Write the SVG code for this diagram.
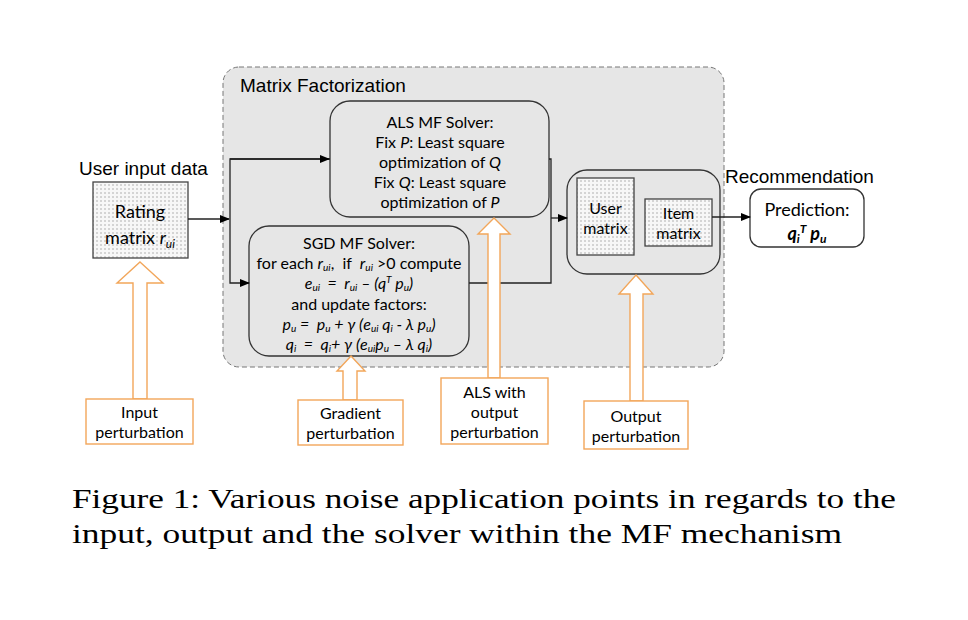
<svg xmlns="http://www.w3.org/2000/svg" width="968" height="620" viewBox="0 0 968 620">
<defs>
<pattern id="dots" width="4" height="4" patternUnits="userSpaceOnUse">
<rect width="4" height="4" fill="#f7f7f7"/>
<rect x="0" y="0" width="2" height="2" fill="#d4d4d4"/>
</pattern>
<marker id="arr" markerWidth="10" markerHeight="8" refX="9" refY="4" orient="auto" markerUnits="userSpaceOnUse">
<path d="M0,0 L10,4 L0,8 Z" fill="#000"/>
</marker>
<style>
.ar{font-family:Arial,"Liberation Sans",sans-serif;font-size:19px;fill:#000}
.cb{font-family:Lato,"Open Sans",sans-serif;font-size:16px;fill:#000;text-anchor:middle}
.box{fill:#e6e6e6;stroke:#333;stroke-width:1.3}
.dot{fill:url(#dots);stroke:#444;stroke-width:1.3}
.or{fill:#fff;stroke:#f2a65a;stroke-width:1.4}
.con{fill:none;stroke:#222;stroke-width:1.3}
.cap{font-family:"Liberation Serif","DejaVu Serif",serif;font-size:27px;fill:#000}
.it{font-style:italic}
</style>
</defs>
<rect width="968" height="620" fill="#fff"/>

<g id="mf-container">
<rect x="223" y="67" width="501" height="300" rx="16" fill="#e6e6e6" stroke="#777" stroke-width="1" stroke-dasharray="5,3"/>
<text class="ar" x="240" y="92">Matrix Factorization</text>
</g>

<g id="user-input">
<text class="ar" x="79" y="175">User input data</text>
<rect class="dot" x="93" y="182" width="95" height="76"/>
<text class="cb" x="140" y="218" style="font-size:18px">Rating</text>
<text class="cb" x="140" y="244" style="font-size:18px">matrix <tspan class="it">r</tspan><tspan class="it" dy="4" font-size="12">ui</tspan></text>
</g>

<g id="als-solver">
<rect class="box" x="330" y="101" width="219" height="116" rx="20"/>
<text class="cb" x="440" y="128">ALS MF Solver:</text>
<text class="cb" x="440" y="148">Fix <tspan class="it">P</tspan>: Least square</text>
<text class="cb" x="440" y="168">optimization of <tspan class="it">Q</tspan></text>
<text class="cb" x="440" y="188">Fix <tspan class="it">Q</tspan>: Least square</text>
<text class="cb" x="440" y="208">optimization of <tspan class="it">P</tspan></text>
</g>

<g id="sgd-solver">
<rect class="box" x="249" y="226" width="220" height="130" rx="20"/>
<text class="cb" x="359" y="249">SGD MF Solver:</text>
<text class="cb" x="359" y="269" xml:space="preserve">for each <tspan class="it">r</tspan><tspan class="it" dy="2" font-size="10">ui</tspan><tspan dy="-2">,  if  </tspan><tspan class="it">r</tspan><tspan class="it" dy="2" font-size="10">ui</tspan><tspan dy="-2"> &gt;0 compute</tspan></text>
<text class="cb it" x="359" y="289" xml:space="preserve">e<tspan dy="2" font-size="10">ui</tspan><tspan dy="-2">  =  r</tspan><tspan dy="2" font-size="10">ui</tspan><tspan dy="-2"> – (q</tspan><tspan dy="-6" font-size="10">T</tspan><tspan dy="6"> p</tspan><tspan dy="2" font-size="10">u</tspan><tspan dy="-2">)</tspan></text>
<text class="cb" x="359" y="310">and update factors:</text>
<text class="cb it" x="359" y="330" xml:space="preserve">p<tspan dy="2" font-size="10">u</tspan><tspan dy="-2"> =  p</tspan><tspan dy="2" font-size="10">u</tspan><tspan dy="-2"> + γ (e</tspan><tspan dy="2" font-size="10">ui</tspan><tspan dy="-2"> q</tspan><tspan dy="2" font-size="10">i</tspan><tspan dy="-2"> - λ p</tspan><tspan dy="2" font-size="10">u</tspan><tspan dy="-2">)</tspan></text>
<text class="cb it" x="359" y="350" xml:space="preserve">q<tspan dy="2" font-size="10">i</tspan><tspan dy="-2">  =  q</tspan><tspan dy="2" font-size="10">i</tspan><tspan dy="-2">+ γ (e</tspan><tspan dy="2" font-size="10">ui</tspan><tspan dy="-2">p</tspan><tspan dy="2" font-size="10">u</tspan><tspan dy="-2"> – λ q</tspan><tspan dy="2" font-size="10">i</tspan><tspan dy="-2">)</tspan></text>
</g>

<g id="factor-matrices">
<rect class="box" x="567" y="170" width="153" height="104" rx="20"/>
<rect class="dot" x="577" y="178" width="57" height="77"/>
<text class="cb" x="605.5" y="214">User</text>
<text class="cb" x="605.5" y="234">matrix</text>
<rect class="dot" x="645" y="199" width="67" height="47"/>
<text class="cb" x="678.5" y="219">Item</text>
<text class="cb" x="678.5" y="239">matrix</text>
</g>

<g id="prediction">
<text class="ar" x="725" y="183">Recommendation</text>
<rect x="750" y="189" width="114" height="58" rx="11" fill="#fff" stroke="#333" stroke-width="1.3"/>
<text class="cb" x="807" y="216" style="font-size:18px">Prediction:</text>
<text class="cb it" x="807" y="240" style="font-size:18px;font-weight:bold">q<tspan dy="3" font-size="12">i</tspan><tspan dy="-10" font-size="12">T</tspan><tspan dy="7"> p</tspan><tspan dy="3" font-size="12">u</tspan></text>
</g>

<g id="connectors">
<line class="con" x1="188" y1="219" x2="229" y2="219" marker-end="url(#arr)"/>
<polyline class="con" points="330,159 230,159 230,283 249,283" marker-end="url(#arr)"/>
<line class="con" x1="230" y1="159" x2="329" y2="159" marker-end="url(#arr)"/>
<polyline class="con" points="549,159 551,159 551,283 469,283"/>
<line class="con" x1="551" y1="218" x2="567" y2="218" marker-end="url(#arr)"/>
<line class="con" x1="712" y1="217" x2="750" y2="217" marker-end="url(#arr)"/>
</g>

<g id="input-perturbation">
<path class="or" d="M140,262 L163,283 L147,283 L147,399 L133,399 L133,283 L117,283 Z"/>
<rect class="or" x="86" y="399" width="107" height="45"/>
<text class="cb" x="139.5" y="418">Input</text>
<text class="cb" x="139.5" y="438">perturbation</text>
</g>

<g id="gradient-perturbation">
<path class="or" d="M351,356 L365,371 L357,371 L357,400 L343,400 L343,371 L337,371 Z"/>
<rect class="or" x="298" y="400" width="105" height="45"/>
<text class="cb" x="350.5" y="419">Gradient</text>
<text class="cb" x="350.5" y="439">perturbation</text>
</g>

<g id="als-output-perturbation">
<path class="or" d="M494,218 L510,234 L500,234 L500,378 L488,378 L488,234 L478,234 Z"/>
<rect class="or" x="441" y="378" width="107" height="66"/>
<text class="cb" x="494.5" y="398">ALS with</text>
<text class="cb" x="494.5" y="418">output</text>
<text class="cb" x="494.5" y="438">perturbation</text>
</g>

<g id="output-perturbation">
<path class="or" d="M636,275 L653,294 L643,294 L643,401 L630,401 L630,294 L619,294 Z"/>
<rect class="or" x="584" y="401" width="104" height="48"/>
<text class="cb" x="636" y="422">Output</text>
<text class="cb" x="636" y="442">perturbation</text>
</g>

<g id="caption">
<text class="cap" x="72" y="508" textLength="824" lengthAdjust="spacingAndGlyphs">Figure 1: Various noise application points in regards to the</text>
<text class="cap" x="72" y="543" textLength="770" lengthAdjust="spacingAndGlyphs">input, output and the solver within the MF mechanism</text>
</g>
</svg>
